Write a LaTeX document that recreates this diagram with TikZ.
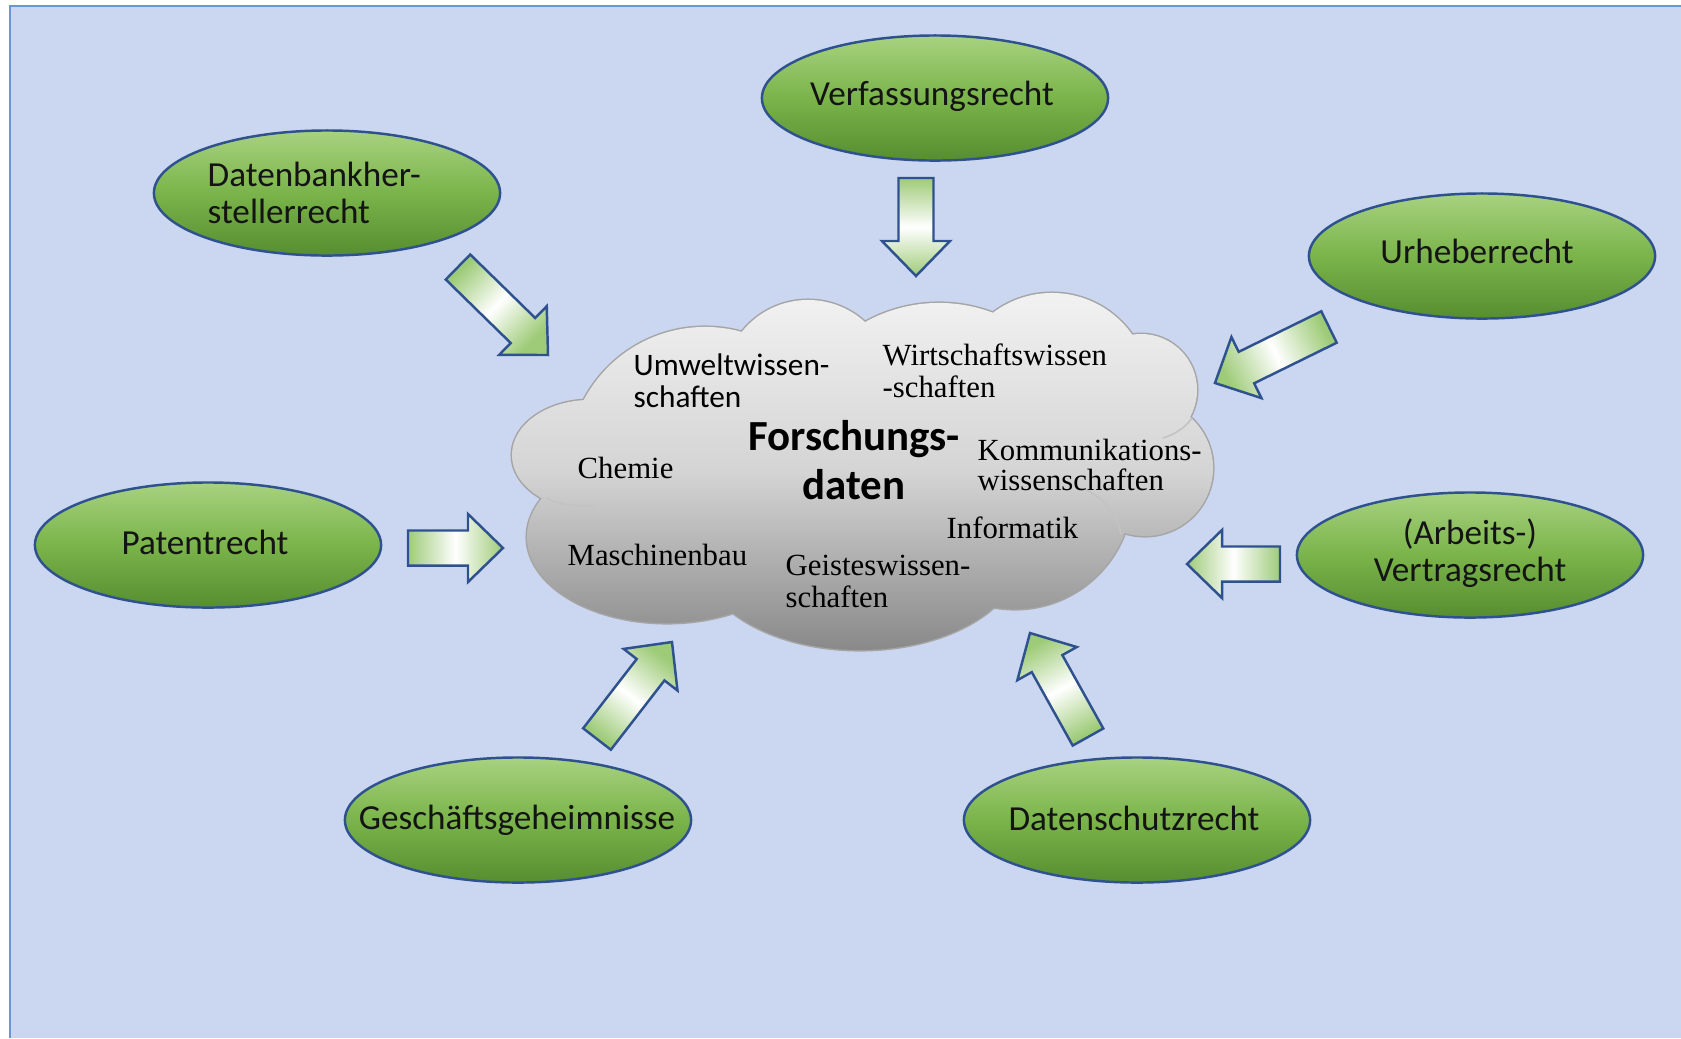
\documentclass[tikz,border=0pt]{standalone}
\usepackage{fontspec}
\setmainfont{Liberation Serif}
\newfontfamily\calfont{Carlito}
\usetikzlibrary{calc,shapes.geometric}
\definecolor{bgblue}{RGB}{203,215,240}
\definecolor{framebl}{RGB}{105,150,215}
\definecolor{elltop}{RGB}{168,210,128}
\definecolor{ellmid}{RGB}{122,180,74}
\definecolor{ellbot}{RGB}{86,142,48}
\definecolor{ellline}{RGB}{47,82,143}
\definecolor{arrgreen}{RGB}{158,203,120}
\definecolor{cloudtop}{RGB}{242,242,242}
\definecolor{cloudmid}{RGB}{212,212,212}
\definecolor{cloudbot}{RGB}{136,136,136}
\definecolor{cloudline}{RGB}{165,165,165}
\definecolor{cloudinner}{RGB}{195,195,195}
\newcommand\blockarr[3]{%
  \coordinate (hb) at ($(#2)!0.35cm!(#1)$);
  \path[blockarrow, shading angle=#3]
    ($(#1)!0.175cm!90:(#2)$) -- ($(hb)!0.175cm!-90:(#1)$) -- ($(hb)!0.34cm!-90:(#1)$) --
    (#2) -- ($(hb)!0.34cm!90:(#1)$) -- ($(hb)!0.175cm!90:(#1)$) -- ($(#1)!0.175cm!-90:(#2)$) -- cycle;
}
\begin{document}
\begin{tikzpicture}[x=0.01cm,y=-0.01cm,
  lawell/.style={ellipse, draw=ellline, line width=0.7pt, minimum width=3.46cm,
    minimum height=1.25cm, inner sep=0pt, top color=elltop, bottom color=ellbot, middle color=ellmid},
  lawtxt/.style={font=\calfont\fontsize{10}{10.5}\selectfont, align=center, inner sep=0pt, text=black!92},
  sanstxt/.style={font=\calfont\fontsize{8.9}{9.1}\selectfont, align=left, inner sep=0pt, anchor=west},
  seriftxt/.style={font=\fontsize{8.75}{8.9}\selectfont, align=left, inner sep=0pt, anchor=west},
  titletxt/.style={font=\calfont\bfseries\fontsize{12.2}{13.7}\selectfont, align=center, inner sep=0pt},
  blockarrow/.style={draw=ellline, line width=0.7pt, line join=miter, top color=arrgreen,
    bottom color=arrgreen, middle color=white},
  innerarc/.style={draw=cloudinner, line width=0.45pt}
]
\useasboundingbox (0,0) rectangle (1681,1038);
\fill[white] (0,0) rectangle (1681,1038);
\fill[bgblue] (10,6) rectangle (1681,1038);
\draw[framebl, line width=0.6pt] (10,1038) -- (10,6) -- (1681,6);

% cloud
\draw[cloudline, line width=0.85pt]
  (705,464) circle[radius=1.37cm]
  (808,384.5) circle[radius=0.845cm]
  (939,455) circle[radius=1.52cm]
  (1052,391) circle[radius=0.98cm]
  (1141,390) circle[radius=0.56cm]
  (1145,468) circle[radius=0.68cm]
  (1015,492) circle[radius=1.17cm]
  (860,555) ellipse[x radius=1.6cm, y radius=0.95cm]
  (667,537) ellipse[x radius=1.4cm, y radius=0.86cm]
  (590,455) ellipse[x radius=0.78cm, y radius=0.55cm];
\begin{scope}
\clip
  (705,464) circle[radius=1.37cm]
  (808,384.5) circle[radius=0.845cm]
  (939,455) circle[radius=1.52cm]
  (1052,391) circle[radius=0.98cm]
  (1141,390) circle[radius=0.56cm]
  (1145,468) circle[radius=0.68cm]
  (1015,492) circle[radius=1.17cm]
  (860,555) ellipse[x radius=1.6cm, y radius=0.95cm]
  (667,537) ellipse[x radius=1.4cm, y radius=0.86cm]
  (590,455) ellipse[x radius=0.78cm, y radius=0.55cm]
  (860,470) ellipse[x radius=2.5cm, y radius=1.3cm];
\shade[top color=cloudtop, bottom color=cloudbot, middle color=cloudmid] (500,292) rectangle (1220,652);
\end{scope}
% faint inner lobe arcs
\coordinate (ia1) at (546,498); \coordinate (ia2) at (596,506);
\coordinate (ib1) at (1192,418); \coordinate (ib2) at (1163,438);
\coordinate (ic1) at (1084,489); \coordinate (ic2) at (1121,534);
\draw[innerarc] (ia1) .. controls (560,505) and (577,507) .. (ia2);
\draw[innerarc] (ib1) .. controls (1185,428) and (1175,434) .. (ib2);
\draw[innerarc] (ic1) .. controls (1104,498) and (1117,514) .. (ic2);

% cloud texts
\node[sanstxt] (umw) at (633,381) {Umweltwissen-\\schaften};
\node[seriftxt, font=\fontsize{8.75}{9.1}\selectfont] (wirt) at (882,371) {Wirtschaftswissen\\-schaften};
\node[seriftxt, font=\fontsize{8.75}{8.5}\selectfont] (komm) at (977,465) {Kommunikations-\\wissenschaften};
\node[seriftxt] (info) at (946,528) {Informatik};
\node[seriftxt, font=\fontsize{8.75}{9.1}\selectfont] (geist) at (785,581) {Geisteswissen-\\schaften};
\node[seriftxt] (chem) at (577,468) {Chemie};
\node[seriftxt] (masch) at (567,555) {Maschinenbau};
\node[titletxt] (fd) at (854,460) {Forschungs-\\daten};

% law ellipses
\node[lawell] (verf) at (935,98) {};
\node[lawtxt] (verft) at (932,96) {Verfassungsrecht};
\node[lawell] (dbank) at (327,193) {};
\node[lawtxt, anchor=west, align=left] (dbankt) at (207,193) {Datenbankher-\\stellerrecht};
\node[lawell] (urh) at (1482,256) {};
\node[lawtxt] (urht) at (1477,251) {Urheberrecht};
\node[lawell] (pat) at (208,545) {};
\node[lawtxt] (patt) at (205,542) {Patentrecht};
\node[lawell] (vert) at (1470,555) {};
\node[lawtxt] (vertt) at (1470,553) {(Arbeits-)\\Vertragsrecht};
\node[lawell] (gesch) at (518,820) {};
\node[lawtxt] (gescht) at (517,820) {Geschäftsgeheimnisse};
\node[lawell] (dsch) at (1137,820) {};
\node[lawtxt] (dscht) at (1134,818) {Datenschutzrecht};

% arrow end points
\coordinate (t1) at (916,178);  \coordinate (p1) at (916,276);
\coordinate (t2) at (458,267);  \coordinate (p2) at (548,355);
\coordinate (t3) at (1329,327); \coordinate (p3) at (1215,383);
\coordinate (t4) at (408,548);  \coordinate (p4) at (503,548);
\coordinate (t5) at (1280,564); \coordinate (p5) at (1187,564);
\coordinate (t6) at (597,739);  \coordinate (p6) at (672,642);
\coordinate (t7) at (1088,737); \coordinate (p7) at (1030,633);

\blockarr{t1}{p1}{0}
\blockarr{t2}{p2}{46}
\blockarr{t3}{p3}{116}
\blockarr{t4}{p4}{90}
\blockarr{t5}{p5}{90}
\blockarr{t6}{p6}{-38}
\blockarr{t7}{p7}{29}
\end{tikzpicture}
\end{document}
